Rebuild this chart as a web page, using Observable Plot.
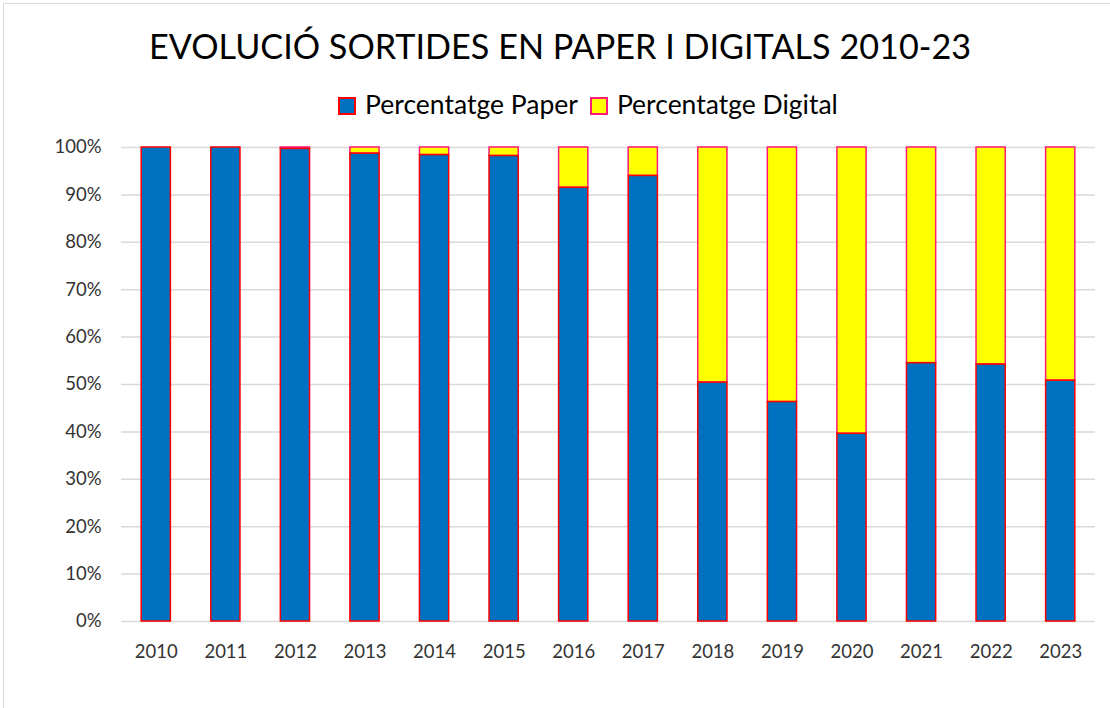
<!DOCTYPE html>
<html>
<head>
<meta charset="utf-8">
<script src="https://cdn.jsdelivr.net/npm/d3@7"></script>
<script src="https://cdn.jsdelivr.net/npm/@observablehq/plot@0.6"></script>
<style>
  html, body { margin: 0; padding: 0; background: #fff; overflow: hidden; }
  #wrap { position: relative; width: 1110px; height: 708px; font-family: Lato, "Open Sans", sans-serif; color: #000; }
  #frame { position: absolute; left: 3px; top: 3px; width: 1140px; height: 740px; border: 1.5px solid #d9d9d9; box-sizing: border-box; }
  #title { position: absolute; left: 0; width: 1120px; top: 26px; text-align: center; font-size: 34.2px; line-height: 40px; white-space: nowrap; }
  #legend { position: absolute; left: 0; width: 1176px; top: 87px; text-align: center; font-size: 26.5px; line-height: 34px; white-space: nowrap; }
  #legend .sw { display: inline-block; width: 18px; height: 18px; box-sizing: border-box; border: 2px solid; vertical-align: -1px; margin-right: 9px; }
  #legend .item { margin: 0 6px; }
  #chart { position: absolute; left: 0; top: 120px; }
</style>
</head>
<body>
<div id="wrap">
  <div id="frame"></div>
  <div id="title"></div>
  <div id="legend"></div>
  <div id="chart"></div>
</div>
<script>
const titleText = "EVOLUCIÓ SORTIDES EN PAPER I DIGITALS 2010-23";
const years = ["2010","2011","2012","2013","2014","2015","2016","2017","2018","2019","2020","2021","2022","2023"];
const paper =   [100.0, 100.0, 99.7, 98.7, 98.4, 98.2, 91.5, 94.0, 50.4, 46.3, 39.6, 54.5, 54.2, 50.8];
const digital = [  0.0,   0.0,  0.3,  1.3,  1.6,  1.8,  8.5,  6.0, 49.6, 53.7, 60.4, 45.5, 45.8, 49.2];
const seriesNames = ["Percentatge Paper", "Percentatge Digital"];
const fills = ["#0070c0", "#ffff00"];
const strokes = ["#ff0000", "#ff1a75"];
const yTicks = [0, 10, 20, 30, 40, 50, 60, 70, 80, 90, 100];

document.getElementById("title").textContent = titleText;
const legend = document.getElementById("legend");
seriesNames.forEach((name, i) => {
  const item = document.createElement("span");
  item.className = "item";
  const sw = document.createElement("span");
  sw.className = "sw";
  sw.style.background = fills[i];
  sw.style.borderColor = strokes[i];
  item.appendChild(sw);
  item.appendChild(document.createTextNode(name));
  legend.appendChild(item);
});

const rows = years.map((year, i) => ({year, paper: paper[i] / 100, digital: digital[i] / 100}));

const chart = Plot.plot({
  width: 1110,
  height: 560,
  marginLeft: 121,
  marginRight: 15,
  marginTop: 27,
  marginBottom: 59,
  style: {fontFamily: "Lato, 'Open Sans', sans-serif", fontSize: "18.5px", color: "#333", background: "transparent"},
  x: {type: "band", domain: years, paddingInner: 0.58, paddingOuter: 0.29, round: false, label: null},
  y: {domain: [0, 1], label: null},
  marks: [
    Plot.ruleY(yTicks.map(d => d / 100), {stroke: "#d9d9d9", strokeWidth: 1.5}),
    Plot.barY(rows, {x: "year", y1: "paper", y2: d => d.paper + d.digital, fill: fills[1], stroke: strokes[1], strokeWidth: 1.5, inset: 0}),
    Plot.barY(rows, {x: "year", y1: 0, y2: "paper", fill: fills[0], stroke: strokes[0], strokeWidth: 1.5, inset: 0}),
    Plot.axisY(yTicks.map(d => d / 100), {tickSize: 0, tickPadding: 20, tickFormat: d => Math.round(d * 100) + "%", fill: "#333"}),
    Plot.axisX({tickSize: 0, tickPadding: 23, fill: "#333", label: null})
  ]
});
document.getElementById("chart").appendChild(chart);
</script>
</body>
</html>
